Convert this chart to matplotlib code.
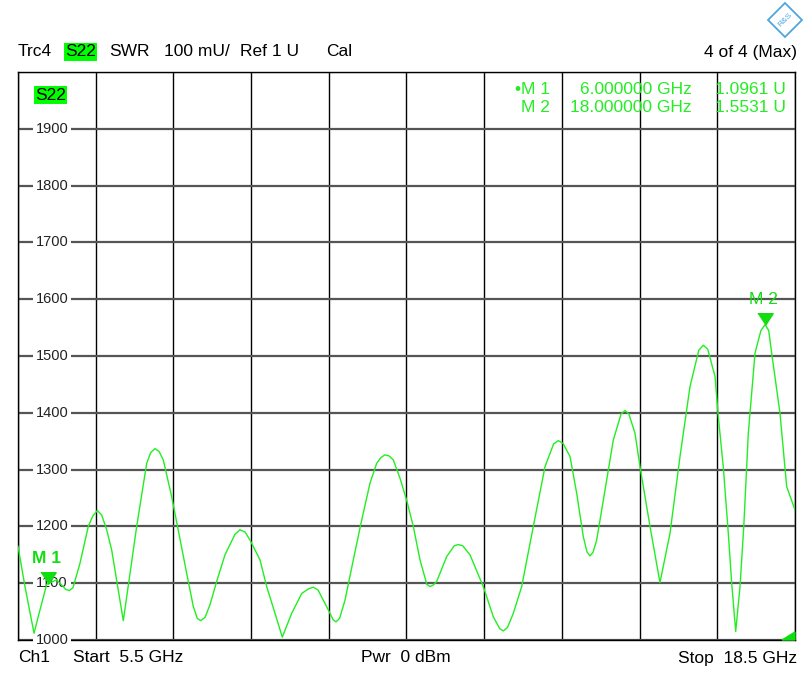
import matplotlib.pyplot as plt
import numpy as np
from matplotlib.patches import Polygon

plt.rcParams['font.family'] = ['Liberation Sans', 'DejaVu Sans']

# S22 SWR trace, frequency in GHz, SWR in mU
freq_ghz = [5.5, 5.617, 5.768, 5.868, 5.98, 6.147, 6.3, 6.358, 6.42, 6.537,
            6.676, 6.75, 6.827, 6.9, 6.984, 7.068, 7.262, 7.486, 7.653, 7.72,
            7.792, 7.86, 7.931, 8.072, 8.323, 8.433, 8.5, 8.557, 8.63, 8.712,
            8.824, 8.963, 9.13, 9.214, 9.3, 9.382, 9.549, 9.661, 9.8, 9.922,
            10.079, 10.247, 10.36, 10.441, 10.52, 10.608, 10.692, 10.77, 10.82, 10.88,
            10.971, 11.11, 11.25, 11.389, 11.501, 11.57, 11.64, 11.71, 11.779, 11.891,
            12.003, 12.114, 12.226, 12.34, 12.393, 12.45, 12.505, 12.673, 12.8, 12.867,
            12.94, 13.062, 13.285, 13.452, 13.56, 13.62, 13.69, 13.787, 13.927, 14.122,
            14.317, 14.46, 14.54, 14.62, 14.736, 14.848, 14.958, 15.02, 15.07, 15.12,
            15.182, 15.293, 15.46, 15.59, 15.656, 15.72, 15.823, 15.907, 16.074, 16.241,
            16.409, 16.576, 16.743, 16.89, 16.966, 17.04, 17.162, 17.217, 17.3, 17.384,
            17.441, 17.508, 17.58, 17.643, 17.719, 17.831, 17.93, 18.0, 18.06, 18.11,
            18.249, 18.361, 18.5]
swr_mu = [1165, 1094, 1012, 1053, 1098, 1106, 1089, 1087, 1092, 1135,
          1200, 1218, 1228, 1220, 1194, 1158, 1034, 1200, 1311, 1330,
          1337, 1332, 1317, 1252, 1117, 1059, 1038, 1034, 1040, 1062,
          1103, 1150, 1186, 1194, 1190, 1176, 1141, 1094, 1047, 1005,
          1047, 1082, 1090, 1093, 1088, 1070, 1053, 1036, 1032, 1038,
          1070, 1141, 1211, 1276, 1311, 1321, 1326, 1324, 1317, 1285,
          1246, 1200, 1141, 1098, 1094, 1097, 1103, 1147, 1166, 1168,
          1166, 1150, 1094, 1041, 1020, 1016, 1022, 1047, 1094, 1200,
          1305, 1345, 1351, 1346, 1323, 1258, 1182, 1155, 1148, 1154,
          1176, 1246, 1352, 1398, 1404, 1398, 1364, 1305, 1200, 1101,
          1188, 1323, 1446, 1510, 1519, 1512, 1464, 1393, 1305, 1188,
          1100, 1015, 1094, 1200, 1364, 1505, 1545, 1555, 1545, 1505,
          1399, 1270, 1229]

marker_names = ['M 1', 'M 2']
marker_freq = [6.0, 18.0]
marker_value = [1.0961, 1.5531]

y_tick_values = [1000, 1100, 1200, 1300, 1400, 1500, 1600, 1700, 1800, 1900]
y_tick_labels = [str(v) for v in y_tick_values]

start_ghz, stop_ghz = 5.5, 18.5

W, H = 812, 675
fig = plt.figure(figsize=(W / 100, H / 100), dpi=100)
fig.patch.set_facecolor('white')

def fx(px):
    return px / W

def fy(py):
    return 1 - py / H

ax = fig.add_axes([fx(18), fy(640), 777 / W, 568 / H])
ax.set_xlim(start_ghz, stop_ghz)
ax.set_ylim(1000, 2000)
ax.set_xticks(np.linspace(start_ghz, stop_ghz, 11))
ax.set_yticks(np.arange(1000, 2001, 100))
ax.tick_params(length=0, labelbottom=False, labelleft=False)
ax.xaxis.grid(True, color='black', lw=1.0)
ax.yaxis.grid(True, color='#555555', lw=1.6)
ax.set_axisbelow(True)
for s in ax.spines.values():
    s.set_color('black')
    s.set_linewidth(1.0)

green = '#22ee22'
ax.plot(freq_ghz, swr_mu, color=green, lw=1.0, zorder=3)

# y labels sitting on the grid lines (under the trace, over the grid)
for v, lab in zip(y_tick_values, y_tick_labels):
    ax.text(0.0438, v, lab, transform=ax.get_yaxis_transform(), ha='center', va='center',
            fontsize=10.5, color='#222222', zorder=2.7, clip_on=False,
            bbox=dict(facecolor='white', edgecolor='none', pad=2.0))

# markers, tip of triangle on the trace
tri = [(-0.65, 1.0), (0.65, 1.0), (0.0, 0.0)]
for i, (name, f) in enumerate(zip(marker_names, marker_freq)):
    v = np.interp(f, freq_ghz, swr_mu)
    ax.plot([f], [v], marker=tri, markersize=17, color='#11dd11', mec='#11dd11', zorder=7)
    ax.annotate(name, (f, v), xytext=(-1, 18), textcoords='offset points', ha='center',
                va='center', fontsize=12.5, color='#11dd11',
                fontweight='bold' if i == 0 else 'normal', zorder=7)

# S22 label inside the grid
fig.text(fx(35), fy(95), 'S22', fontsize=12.5, ha='left', va='center', color='black',
         bbox=dict(facecolor='#00ff00', edgecolor='none', pad=1.0))

# marker table, top right
for i, (name, f, val) in enumerate(zip(marker_names, marker_freq, marker_value)):
    yy = fy(90 + 18 * i)
    prefix = '\u2022' if i == 0 else ''
    fig.text(fx(550), yy, prefix + name, ha='right', va='center', fontsize=12.5, color=green)
    fig.text(fx(692), yy, f'{f:.6f} GHz', ha='right', va='center', fontsize=12.5, color=green)
    fig.text(fx(786), yy, f'{val:.4f} U', ha='right', va='center', fontsize=12.5, color=green)

# header
hdr_y = fy(52)
fs = 12.5
fig.text(fx(18), hdr_y, 'Trc4', ha='left', va='center', fontsize=fs)
fig.text(fx(65), hdr_y, 'S22', ha='left', va='center', fontsize=fs,
         bbox=dict(facecolor='#00ff00', edgecolor='none', pad=1.0))
fig.text(fx(109), hdr_y, 'SWR', ha='left', va='center', fontsize=fs)
fig.text(fx(164), hdr_y, '100 mU/', ha='left', va='center', fontsize=fs)
fig.text(fx(240), hdr_y, 'Ref 1 U', ha='left', va='center', fontsize=fs)
fig.text(fx(326), hdr_y, 'Cal', ha='left', va='center', fontsize=fs)
fig.text(fx(797), hdr_y, '4 of 4 (Max)', ha='right', va='center', fontsize=fs)

# footer
ftr_y = fy(658)
fig.text(fx(18), ftr_y, 'Ch1', ha='left', va='center', fontsize=fs)
fig.text(fx(73), ftr_y, f'Start  {start_ghz} GHz', ha='left', va='center', fontsize=fs)
fig.text(fx(406), ftr_y, 'Pwr  0 dBm', ha='center', va='center', fontsize=fs)
fig.text(fx(797), ftr_y, f'Stop  {stop_ghz} GHz', ha='right', va='center', fontsize=fs)

# small limit indicator at the bottom right corner
fig.patches.append(Polygon([(fx(795), fy(640)), (fx(782), fy(640)), (fx(795), fy(632))],
                           closed=True, transform=fig.transFigure, color='#11dd11'))

# R&S logo outline
cx, cy, r = 785, 20, 17
fig.patches.append(Polygon([(fx(cx), fy(cy - r)), (fx(cx + r), fy(cy)), (fx(cx), fy(cy + r)),
                            (fx(cx - r), fy(cy))], closed=True, fill=False,
                           transform=fig.transFigure, edgecolor='#4da6e0', lw=1.3))
fig.text(fx(cx), fy(cy), 'R&S', ha='center', va='center', fontsize=6, color='#4da6e0',
         rotation=45)

fig.savefig('out.png', dpi=100)
